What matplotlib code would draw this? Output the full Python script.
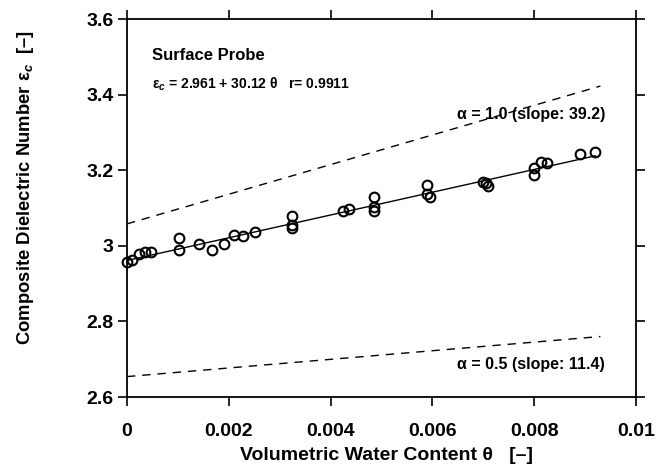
import matplotlib
matplotlib.use("Agg")
import matplotlib.pyplot as plt
import numpy as np

plt.rcParams['font.family'] = ['Liberation Sans', 'DejaVu Sans']
plt.rcParams['font.weight'] = 'bold'
plt.rcParams['mathtext.fontset'] = 'custom'
plt.rcParams['mathtext.rm'] = 'Liberation Sans:bold'
plt.rcParams['mathtext.it'] = 'Liberation Sans:italic:bold'
plt.rcParams['mathtext.bf'] = 'Liberation Sans:bold'

# measured data
theta = [0.0000, 0.0001, 0.00024, 0.00035, 0.00047, 0.00103, 0.00103, 0.00142,
         0.00167, 0.0019, 0.00211, 0.00227, 0.00251, 0.00325, 0.00325, 0.00325,
         0.00424, 0.00436, 0.00485, 0.00485, 0.00485, 0.0059, 0.0059, 0.00595,
         0.0070, 0.00705, 0.0071, 0.0080, 0.0080, 0.00813, 0.00825, 0.0089, 0.0092]
eps = [2.958, 2.962, 2.978, 2.983, 2.984, 3.020, 2.989, 3.004,
       2.988, 3.004, 3.029, 3.026, 3.036, 3.080, 3.055, 3.048,
       3.093, 3.097, 3.128, 3.103, 3.093, 3.162, 3.138, 3.128,
       3.168, 3.165, 3.157, 3.187, 3.207, 3.223, 3.219, 3.243, 3.248]

# regression and model lines
fit_intercept, fit_slope = 2.961, 30.12
fit_x = [0.0, 0.0092]
model_x = [0.0, 0.0093]
alpha1_intercept, alpha1_slope = 3.058, 39.2
alpha05_intercept, alpha05_slope = 2.654, 11.4

xticks = [0, 0.002, 0.004, 0.006, 0.008, 0.01]
xticklabels = ['0', '0.002', '0.004', '0.006', '0.008', '0.01']
yticks = [2.6, 2.8, 3.0, 3.2, 3.4, 3.6]
yticklabels = ['2.6', '2.8', '3', '3.2', '3.4', '3.6']

fig = plt.figure(figsize=(6.64, 4.72), dpi=100)
ax = fig.add_axes([127/664, 1-397/472, (636-127)/664, (397-19)/472])

fx = np.array(fit_x)
ax.plot(fx, fit_intercept + fit_slope*fx, color='black', lw=1.0, zorder=2)
mx = np.array(model_x)
ax.plot(mx, alpha1_intercept + alpha1_slope*mx, color='black', lw=1.0,
        ls=(0, (6, 5)), zorder=2)
ax.plot(mx, alpha05_intercept + alpha05_slope*mx, color='black', lw=1.0,
        ls=(0, (6, 5)), zorder=2)
ax.plot(theta, eps, ls='none', marker='o', markersize=7, markerfacecolor='none',
        markeredgecolor='black', markeredgewidth=1.5, zorder=3, clip_on=False)

ax.set_xlim(0, 0.01)
ax.set_ylim(2.6, 3.6)
ax.set_xticks(xticks)
ax.set_xticklabels(xticklabels)
ax.set_yticks(yticks)
ax.set_yticklabels(yticklabels)
ax.tick_params(direction='out', length=6.5, width=1.2, labelsize=14,
               top=True, right=True, labeltop=False, labelright=False, pad=3)
ax.tick_params(axis='x', pad=12)
for lab in ax.get_xticklabels() + ax.get_yticklabels():
    lab.set_fontweight('bold')
for s in ax.spines.values():
    s.set_linewidth(1.3)

fig.text(386/664, 1-455/472, 'Volumetric Water Content θ   [–]', fontsize=14,
         fontweight='bold', ha='center', va='center')
fig.text(26/664, 1-188/472, 'Composite Dielectric Number ε$_c$  [–]', fontsize=13.3,
         fontweight='bold', ha='center', va='center', rotation=90)

fig.text(152/664, 1-55/472, 'Surface Probe', fontsize=12, fontweight='bold',
         va='center', ha='left')
fig.text(152/664, 1-84/472, 'ε$_c$ = 2.961 + 30.12 θ   r= 0.9911',
         fontsize=10, fontweight='bold', va='center', ha='left')
fig.text(605/664, 1-115/472, 'α = 1.0 (slope: 39.2)', fontsize=11.5,
         fontweight='bold', va='center', ha='right')
fig.text(605/664, 1-365/472, 'α = 0.5 (slope: 11.4)', fontsize=11.5,
         fontweight='bold', va='center', ha='right')

fig.savefig('out.png', dpi=100)
